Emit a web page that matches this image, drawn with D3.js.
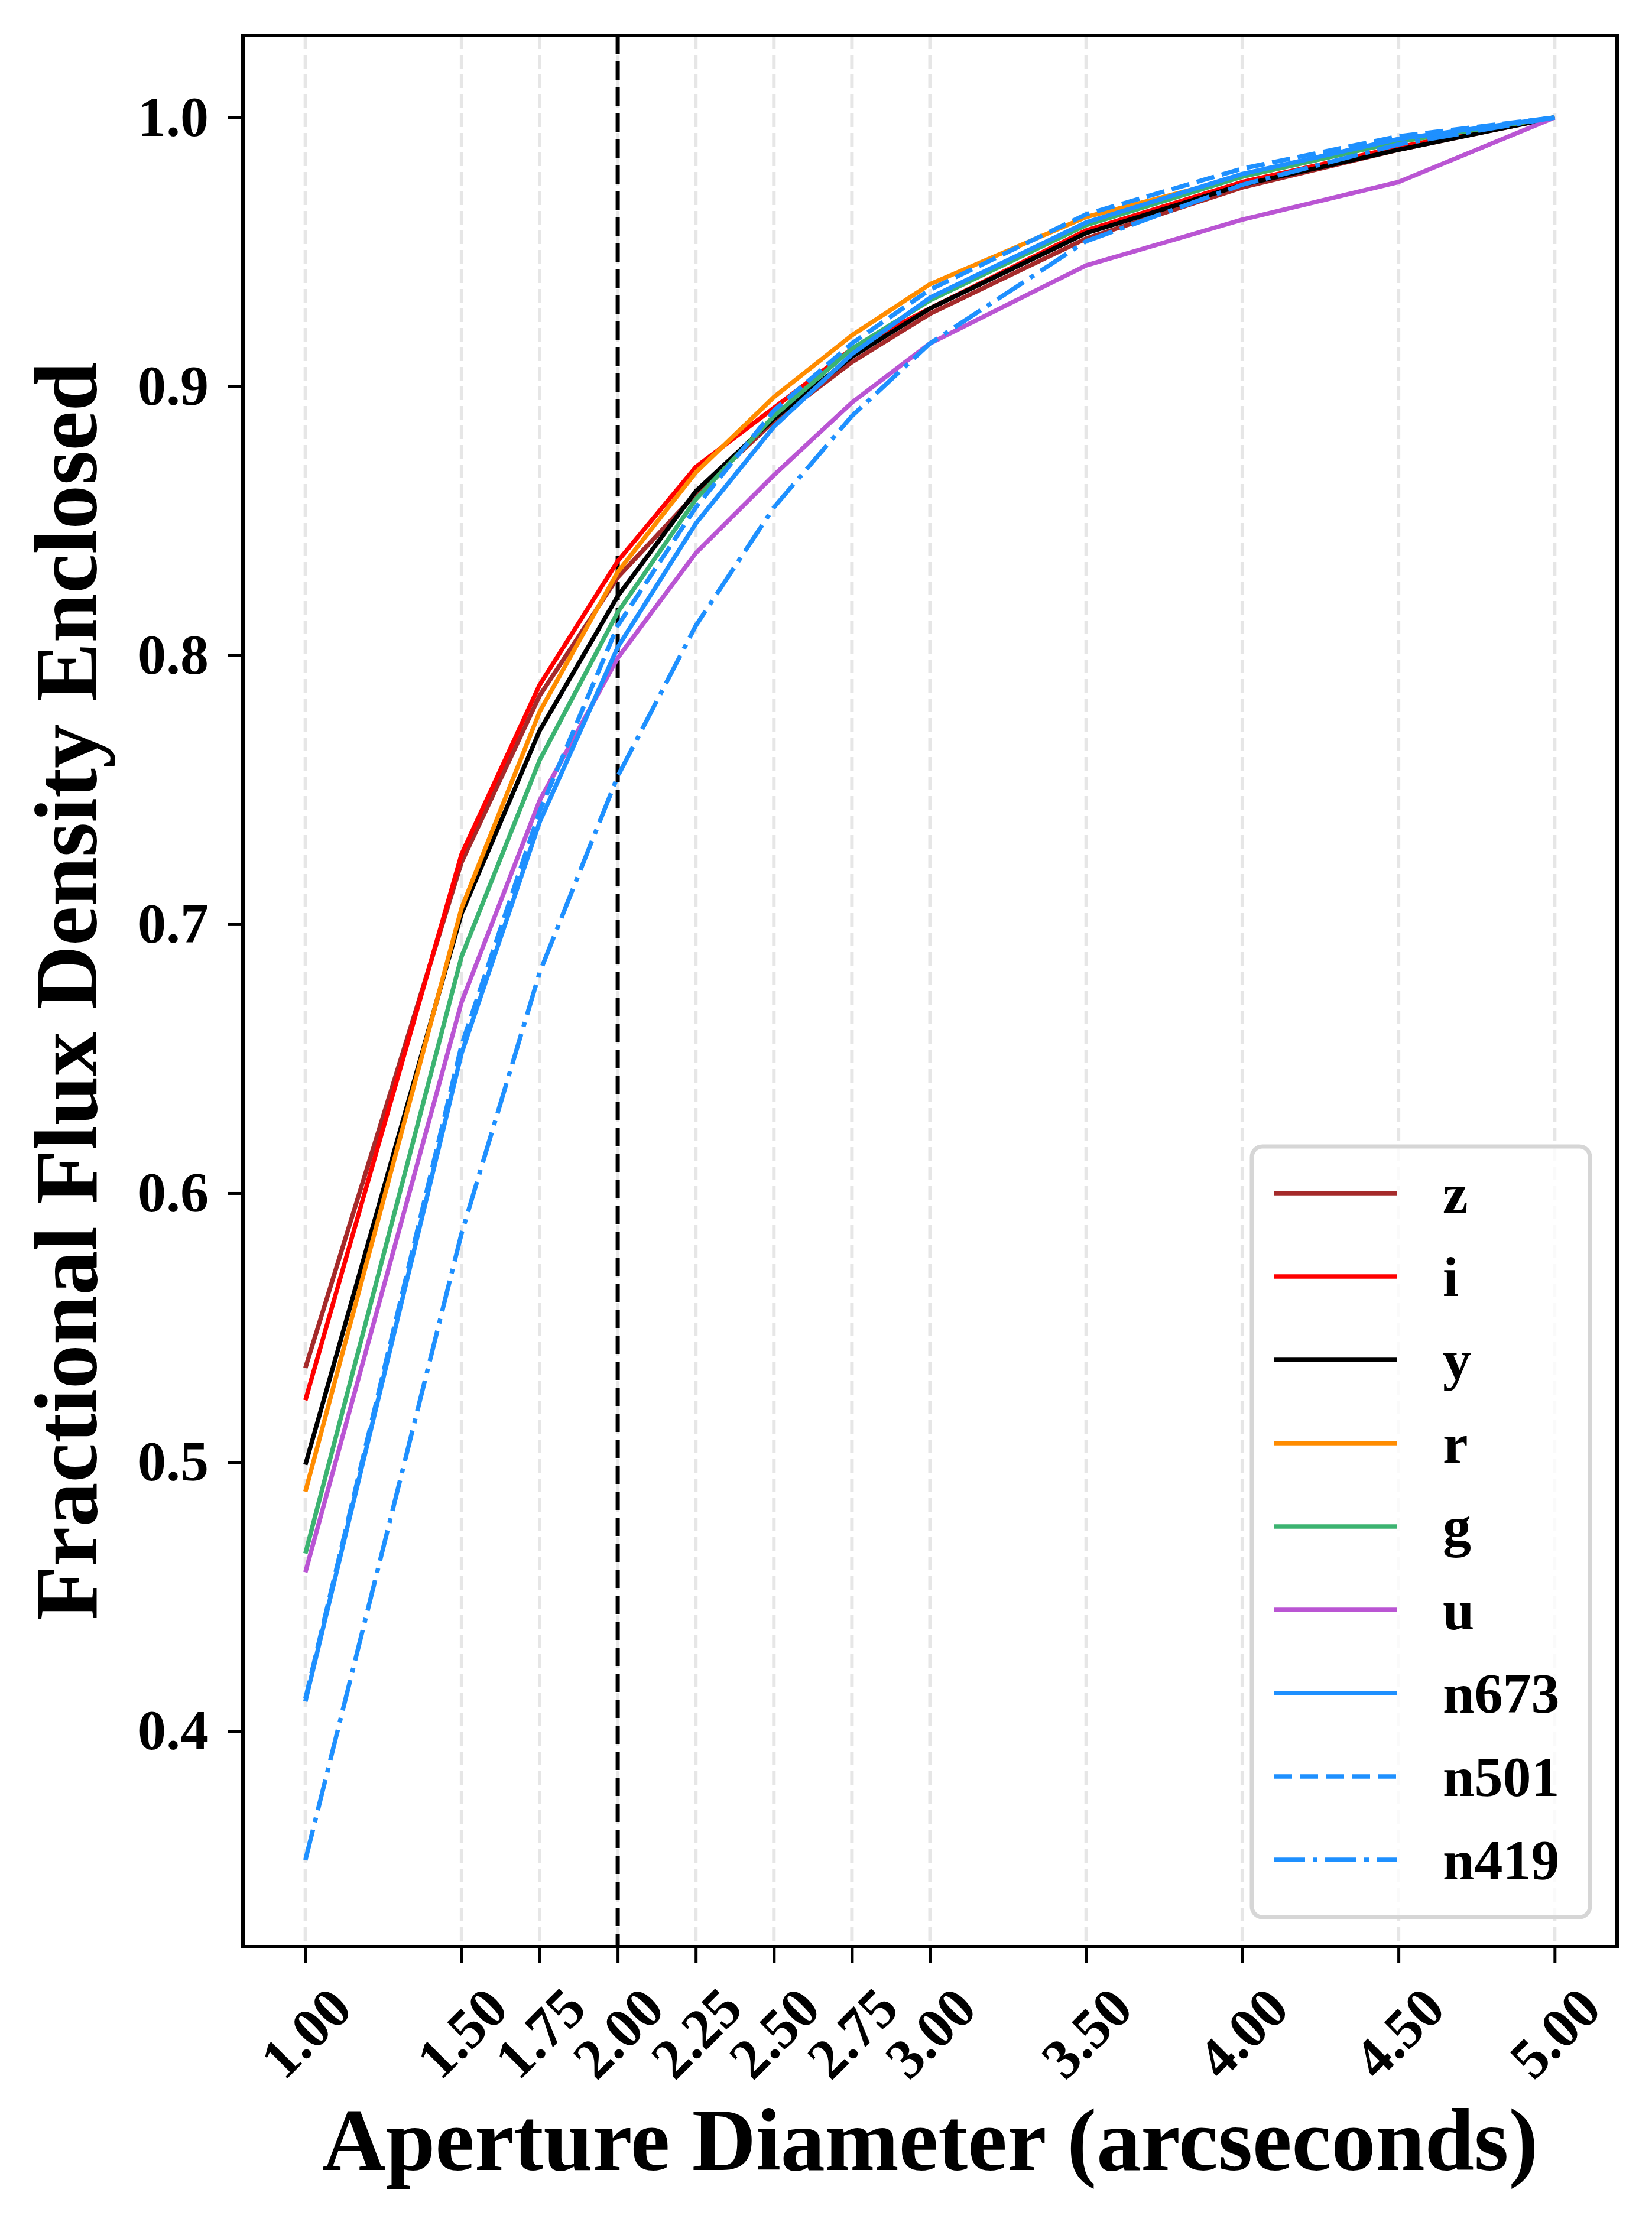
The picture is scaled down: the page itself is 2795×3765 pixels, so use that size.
<!DOCTYPE html>
<html>
<head>
<meta charset="utf-8">
<script src="https://cdnjs.cloudflare.com/ajax/libs/d3/7.8.5/d3.min.js"></script>
<title>Enclosed flux</title>
<style>
body { margin: 0; background: #fff; }
svg { font-family: "Liberation Serif", "Times New Roman", serif; font-weight: bold; }
</style>
</head>
<body>
<script>

// aperture diameters (arcsec) and fractional flux per band
var apertures = [1.00, 1.50, 1.75, 2.00, 2.25, 2.50, 2.75, 3.00, 3.50, 4.00, 4.50, 5.00];

var zFlux    = [0.535, 0.723, 0.785, 0.829, 0.860, 0.887, 0.909, 0.927, 0.955, 0.974, 0.988, 1.0];
var iFlux    = [0.523, 0.726, 0.789, 0.835, 0.870, 0.892, 0.914, 0.929, 0.958, 0.976, 0.989, 1.0];
var yFlux    = [0.499, 0.704, 0.772, 0.822, 0.861, 0.888, 0.911, 0.929, 0.957, 0.975, 0.988, 1.0];
var rFlux    = [0.489, 0.706, 0.779, 0.831, 0.868, 0.896, 0.919, 0.938, 0.963, 0.978, 0.991, 1.0];
var gFlux    = [0.466, 0.688, 0.761, 0.816, 0.858, 0.889, 0.914, 0.932, 0.960, 0.978, 0.991, 1.0];
var uFlux    = [0.459, 0.671, 0.746, 0.799, 0.838, 0.867, 0.894, 0.916, 0.945, 0.962, 0.976, 1.0];
var n673Flux = [0.411, 0.652, 0.738, 0.803, 0.849, 0.885, 0.912, 0.933, 0.961, 0.979, 0.992, 1.0];
var n501Flux = [0.412, 0.655, 0.742, 0.811, 0.855, 0.891, 0.916, 0.936, 0.964, 0.981, 0.993, 1.0];
var n419Flux = [0.352, 0.585, 0.682, 0.755, 0.811, 0.855, 0.889, 0.916, 0.954, 0.975, 0.990, 1.0];

var bandNames = ["z", "i", "y", "r", "g", "u", "n673", "n501", "n419"];
var bandFlux = [zFlux, iFlux, yFlux, rFlux, gFlux, uFlux, n673Flux, n501Flux, n419Flux];

var xTicks = apertures;
var yTicks = [0.4, 0.5, 0.6, 0.7, 0.8, 0.9, 1.0];
var markedAperture = 2.0;

var xLabel = "Aperture Diameter (arcseconds)";
var yLabel = "Fractional Flux Density Enclosed";

// styles
var colors = ["#a52a2a", "#ff0000", "#000000", "#ff8c00", "#3cb371", "#ba55d3", "#1e90ff", "#1e90ff", "#1e90ff"];
var dashes = [null, null, null, null, null, null, null, "31,13", "53,13,8,13"];

var W = 2795, H = 3765;
var margin = {left: 411, right: 2736, top: 60, bottom: 3294};
var fontSize = 96;

var x = d3.scaleLinear().domain([0.8, 5.2]).range([margin.left, margin.right]);
var y = d3.scaleLinear().domain([0.3198, 1.0305]).range([margin.bottom, margin.top]);

var svg = d3.select("body").append("svg")
  .attr("width", W)
  .attr("height", H);

// vertical grid
svg.append("g").selectAll("line").data(xTicks).enter().append("line")
  .attr("x1", function(d) { return x(d); })
  .attr("x2", function(d) { return x(d); })
  .attr("y1", margin.top)
  .attr("y2", margin.bottom)
  .attr("stroke", "#e6e6e6")
  .attr("stroke-width", 6)
  .attr("stroke-dasharray", "23,10");

// marked aperture
svg.append("line")
  .attr("x1", x(markedAperture)).attr("x2", x(markedAperture))
  .attr("y1", margin.top).attr("y2", margin.bottom)
  .attr("stroke", "#000")
  .attr("stroke-width", 7)
  .attr("stroke-dasharray", "31,13");

var series = bandNames.map(function(name, i) {
  return {
    name: name,
    color: colors[i],
    dash: dashes[i],
    values: apertures.map(function(a, j) { return [a, bandFlux[i][j]]; })
  };
});

var line = d3.line()
  .x(function(d) { return x(d[0]); })
  .y(function(d) { return y(d[1]); });

svg.append("g").selectAll("path").data(series).enter().append("path")
  .attr("d", function(d) { return line(d.values); })
  .attr("fill", "none")
  .attr("stroke", function(d) { return d.color; })
  .attr("stroke-width", 7.5)
  .attr("stroke-linejoin", "round")
  .attr("stroke-dasharray", function(d) { return d.dash; });

// axes
var xAxis = svg.append("g")
  .attr("transform", "translate(0," + margin.bottom + ")")
  .call(d3.axisBottom(x).tickValues(xTicks).tickFormat(d3.format(".2f")).tickSize(28));

xAxis.selectAll("text")
  .attr("y", 0)
  .attr("dy", "0.34em")
  .attr("text-anchor", "middle")
  .attr("transform", "translate(0,146) rotate(-45)");

var yAxis = svg.append("g")
  .attr("transform", "translate(" + margin.left + ",0)")
  .call(d3.axisLeft(y).tickValues(yTicks).tickFormat(d3.format(".1f")).tickSize(26).tickPadding(32));

[xAxis, yAxis].forEach(function(ax) {
  ax.select(".domain").remove();
  ax.selectAll(".tick line").attr("stroke", "#000").attr("stroke-width", 5);
  ax.selectAll("text")
    .attr("fill", "#000")
    .style("font-family", "'Liberation Serif', 'Times New Roman', serif")
    .style("font-weight", "bold")
    .style("font-size", fontSize + "px");
});

// legend (semi-transparent box, grid shows through)
var legend = {left: 2118, top: 1940, width: 572, height: 1304, rowStart: 2019, rowStep: 141};

svg.append("rect")
  .attr("x", legend.left).attr("y", legend.top)
  .attr("width", legend.width).attr("height", legend.height)
  .attr("rx", 18)
  .attr("fill", "#fff")
  .attr("fill-opacity", 0.8)
  .attr("stroke", "#d6d6d6")
  .attr("stroke-width", 7);

var rows = svg.append("g").selectAll("g").data(series).enter().append("g")
  .attr("transform", function(d, i) { return "translate(0," + (legend.rowStart + i * legend.rowStep) + ")"; });

rows.append("line")
  .attr("x1", 2155).attr("x2", 2364)
  .attr("stroke", function(d) { return d.color; })
  .attr("stroke-width", 7.5)
  .attr("stroke-dasharray", function(d) { return d.dash; });

rows.append("text")
  .attr("x", 2441)
  .attr("dy", "0.34em")
  .style("font-size", fontSize + "px")
  .text(function(d) { return d.name; });

// frame
svg.append("rect")
  .attr("x", margin.left).attr("y", margin.top)
  .attr("width", margin.right - margin.left)
  .attr("height", margin.bottom - margin.top)
  .attr("fill", "none")
  .attr("stroke", "#000")
  .attr("stroke-width", 6);

// axis titles
svg.append("text")
  .attr("x", (margin.left + margin.right) / 2)
  .attr("y", 3672)
  .attr("text-anchor", "middle")
  .style("font-size", "150px")
  .text(xLabel);

svg.append("text")
  .attr("transform", "translate(163," + (margin.top + margin.bottom) / 2 + ") rotate(-90)")
  .attr("text-anchor", "middle")
  .style("font-size", "150px")
  .text(yLabel);

</script>
</body>
</html>
